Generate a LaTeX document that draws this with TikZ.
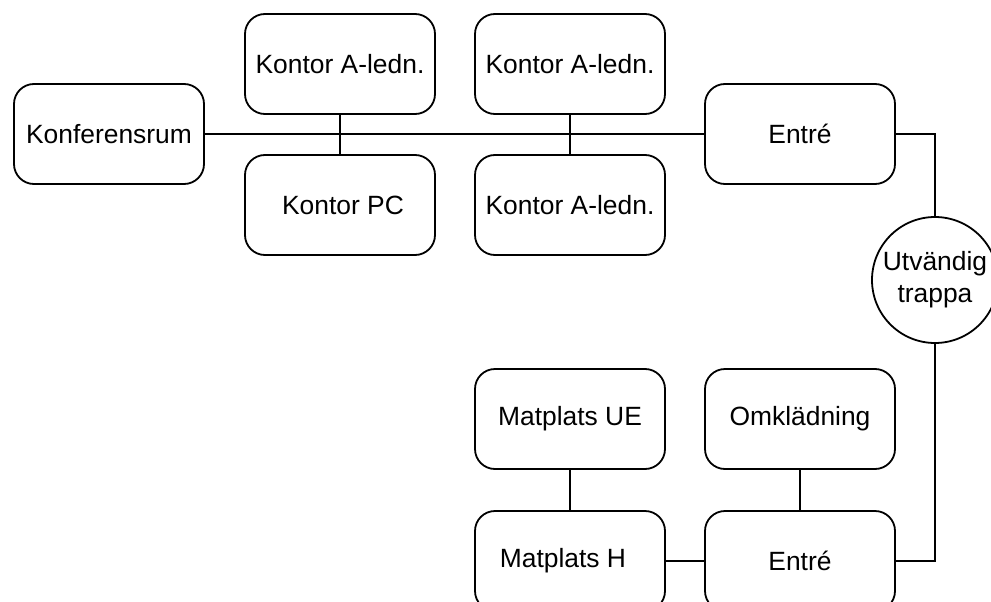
\documentclass[tikz,border=0pt]{standalone}
\usepackage{fontspec}
\setmainfont{Liberation Sans}
\begin{document}
\begin{tikzpicture}[x=1pt,y=-1pt,
  room/.style={draw, line width=1.8pt, rounded corners=20pt,
    minimum width=190pt, minimum height=100pt, inner sep=0pt,
    font=\fontsize{26.4}{32}\selectfont},
  stair/.style={draw, circle, line width=1.8pt, minimum size=126pt,
    inner sep=0pt, align=center, font=\fontsize{26.4}{32}\selectfont},
  link/.style={line width=2.2pt}]
\useasboundingbox (0,0) rectangle (991,602);
\clip (0,0) rectangle (991,602);
% upper floor
\node[room] (konf) at (109,134) {Konferensrum};
\node[room] (ka1)  at (340,64)  {Kontor A-ledn.};
\node[room] (kpc)  at (340,205) {\kern6pt Kontor PC};
\node[room] (ka2)  at (570,64)  {Kontor A-ledn.};
\node[room] (ka3)  at (570,205) {Kontor A-ledn.};
\node[room] (ent1) at (800,134) {Entré};
% outdoor stairs
\node[stair] (trappa) at (935,280) {Utvändig\\trappa};
% lower floor
\node[room] (mue)  at (570,419) {Matplats UE};
\node[room] (oml)  at (800,419) {Omklädning};
\node[room] (mh)   at (570,561) {Matplats H\kern14pt\relax};
\node[room] (ent2) at (800,561) {Entré};
% corridors
\draw[link] (konf.east) -- (ent1.west);
\draw[link] (ka1.south) -- (kpc.north);
\draw[link] (ka2.south) -- (ka3.north);
\draw[link] (ent1.east) -| (trappa.north);
\draw[link] (trappa.south) |- (ent2.east);
\draw[link] (mue.south) -- (mh.north);
\draw[link] (oml.south) -- (ent2.north);
\draw[link] (mh.east) -- (ent2.west);
\end{tikzpicture}
\end{document}
